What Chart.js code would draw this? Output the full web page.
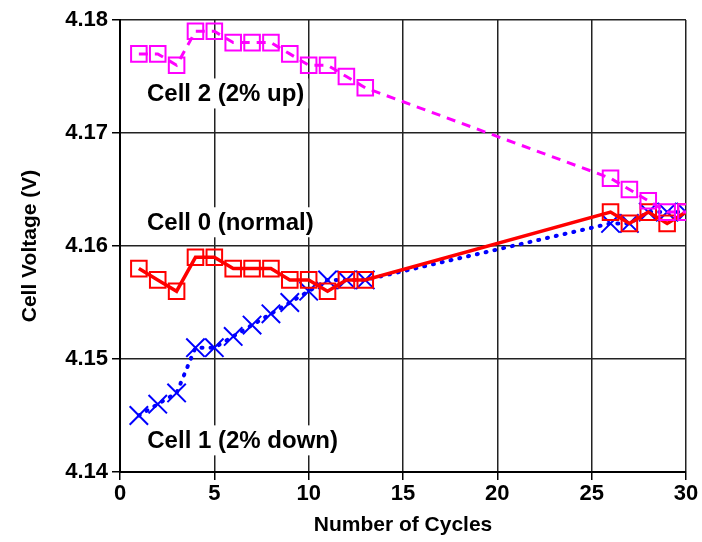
<!DOCTYPE html>
<html>
<head>
<meta charset="utf-8">
<script src="https://cdn.jsdelivr.net/npm/chart.js@4"></script>
<style>
  body { margin: 0; background: #fff; }
  #wrap { width: 702px; height: 542px; }
</style>
</head>
<body>
<div id="wrap"><canvas id="myChart" width="702" height="542"></canvas></div>
<script>
// cycle numbers
const cycles = [1, 2, 3, 4, 5, 6, 7, 8, 9, 10, 11, 12, 13, 26, 27, 28, 29, 30];
// voltages (V)
const cell0 = [4.158, 4.157, 4.156, 4.159, 4.159, 4.158, 4.158, 4.158, 4.157, 4.157, 4.156, 4.157, 4.157, 4.163, 4.162, 4.163, 4.162, 4.163];
const cell1 = [4.145, 4.146, 4.147, 4.151, 4.151, 4.152, 4.153, 4.154, 4.155, 4.156, 4.157, 4.157, 4.157, 4.162, 4.162, 4.163, 4.163, 4.163];
const cell2 = [4.177, 4.177, 4.176, 4.179, 4.179, 4.178, 4.178, 4.178, 4.177, 4.176, 4.176, 4.175, 4.174, 4.166, 4.165, 4.164, 4.163, 4.163];
const xTicks = [0, 5, 10, 15, 20, 25, 30];
const yTicks = [4.14, 4.15, 4.16, 4.17, 4.18];

// text labels placed in data coordinates
const labelText = ["Cell 2 (2% up)", "Cell 0 (normal)", "Cell 1 (2% down)"];
const labelX = [5.6, 5.85, 6.5];
const labelY = [4.1735, 4.1621, 4.1428];

function pts(ys) {
  return cycles.map(function (c, i) { return { x: c, y: ys[i] }; });
}

const fontFam = "'Liberation Sans', Arial, sans-serif";

const textLabels = {
  id: "textLabels",
  beforeDatasetsDraw(chart) {
    const ctx = chart.ctx;
    const xs = chart.scales.x, ys = chart.scales.y;
    ctx.save();
    ctx.font = "bold 24px " + fontFam;
    ctx.textAlign = "center";
    ctx.textBaseline = "middle";
    labelText.forEach(function (t, i) {
      const px = xs.getPixelForValue(labelX[i]);
      const py = ys.getPixelForValue(labelY[i]);
      const w = ctx.measureText(t).width;
      ctx.fillStyle = "#fff";
      ctx.fillRect(px - w / 2 - 4, py - 15, w + 8, 30);
      ctx.fillStyle = "#000";
      ctx.fillText(t, px, py + 1);
    });
    ctx.restore();
  }
};

var ctx = document.getElementById("myChart").getContext("2d");
var myChart = new Chart(ctx, {
  type: "line",
  data: {
    datasets: [
      {
        label: "Cell 2",
        data: pts(cell2),
        borderColor: "#ff00ff",
        borderWidth: 3,
        borderDash: [9, 7],
        pointStyle: "rect",
        pointRadius: 11,
        pointBorderWidth: 2,
        pointBorderColor: "#ff00ff",
        pointBackgroundColor: "rgba(0,0,0,0)"
      },
      {
        label: "Cell 0",
        data: pts(cell0),
        borderColor: "#ff0000",
        borderWidth: 3.5,
        pointStyle: "rect",
        pointRadius: 11,
        pointBorderWidth: 2,
        pointBorderColor: "#ff0000",
        pointBackgroundColor: "rgba(0,0,0,0)"
      },
      {
        label: "Cell 1",
        data: pts(cell1),
        borderColor: "#0000ff",
        borderWidth: 4,
        borderDash: [1, 8],
        borderCapStyle: "round",
        pointStyle: "crossRot",
        pointRadius: 13,
        pointBorderWidth: 2,
        pointBorderColor: "#0000ff",
        pointBackgroundColor: "rgba(0,0,0,0)"
      }
    ]
  },
  options: {
    responsive: false,
    animation: false,
    layout: { padding: { top: 20, right: 16, left: 14, bottom: 0 } },
    plugins: { legend: { display: false }, tooltip: { enabled: false } },
    elements: { line: { tension: 0 } },
    scales: {
      x: {
        type: "linear",
        min: 0, max: 30,
        afterBuildTicks: function (s) { s.ticks = xTicks.map(function (v) { return { value: v }; }); },
        afterFit: function (s) { s.height = 70; },
        grid: { color: "#222", lineWidth: 1.5, tickLength: 8, tickColor: "#000" },
        border: { color: "#000", width: 2 },
        ticks: { color: "#000", font: { family: fontFam, size: 22, weight: "bold" }, padding: 1 },
        title: { display: true, text: "Number of Cycles", color: "#000", font: { family: fontFam, size: 21, weight: "bold" }, padding: { top: 0 } }
      },
      y: {
        type: "linear",
        min: 4.14, max: 4.18,
        afterBuildTicks: function (s) { s.ticks = yTicks.map(function (v) { return { value: v }; }); },
        afterFit: function (s) { s.width = 106; },
        grid: { color: "#222", lineWidth: 1.5, tickLength: 8, tickColor: "#000" },
        border: { color: "#000", width: 2 },
        ticks: { color: "#000", font: { family: fontFam, size: 22, weight: "bold" }, padding: 4,
          callback: function (v) { return v.toFixed(2); } },
        title: { display: true, text: "Cell Voltage (V)", color: "#000", font: { family: fontFam, size: 21, weight: "bold" }, padding: { bottom: 4 } }
      }
    }
  },
  plugins: [textLabels]
});
</script>
</body>
</html>
